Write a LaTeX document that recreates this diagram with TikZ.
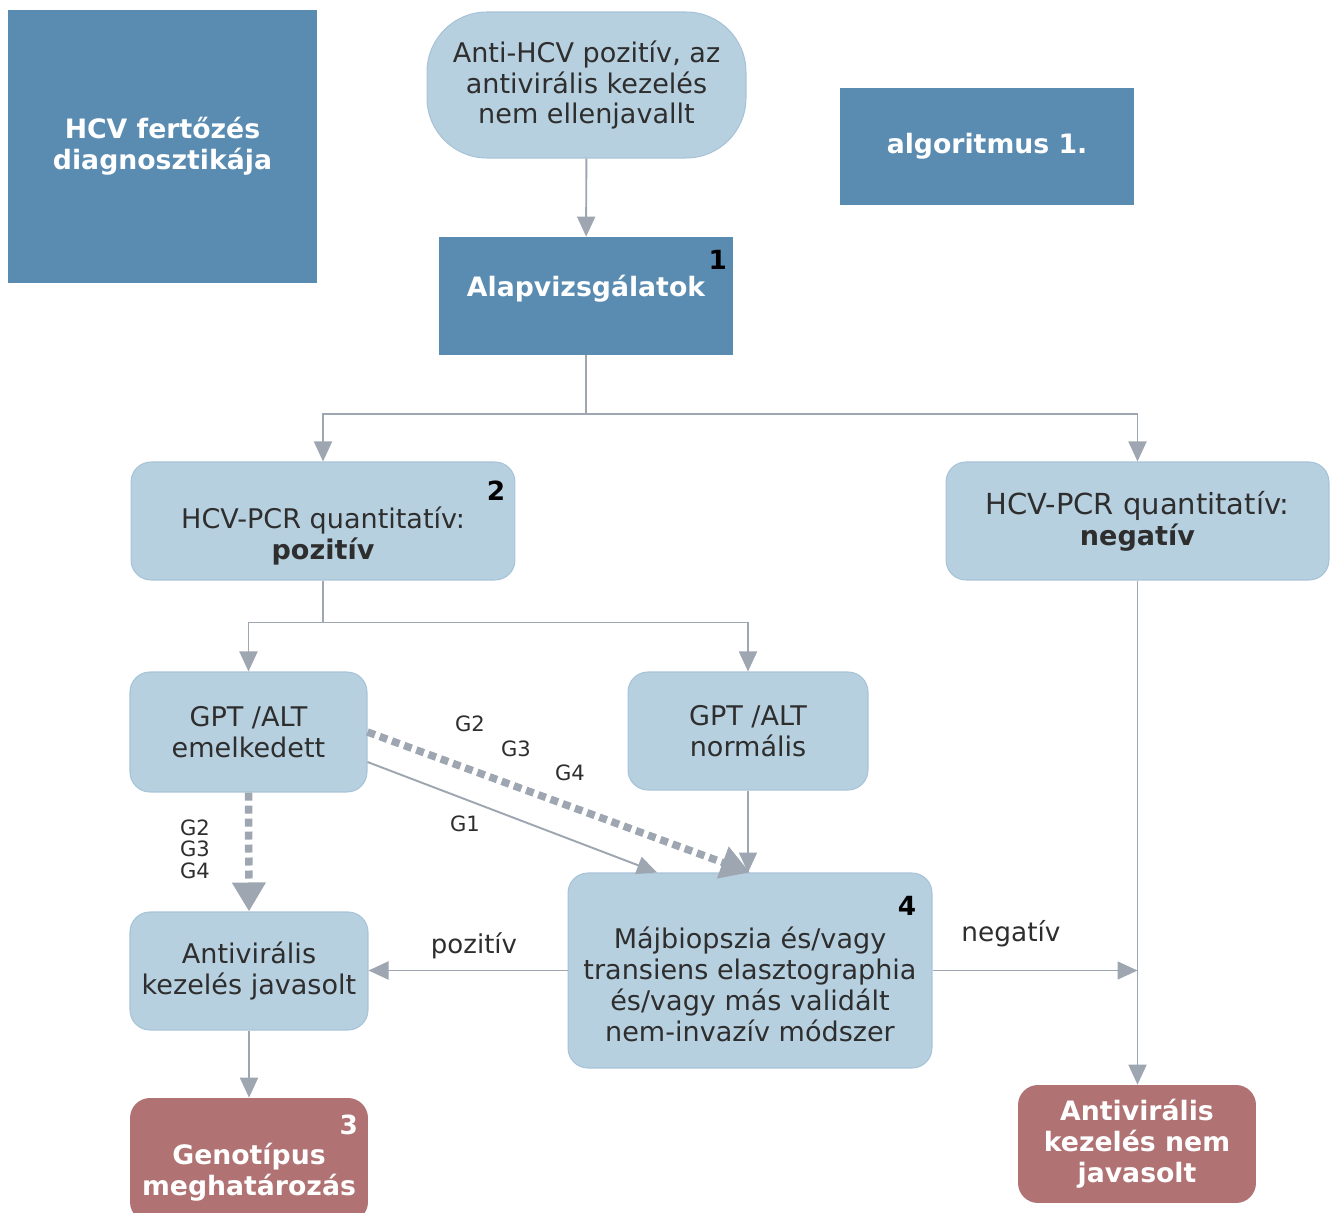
\documentclass[tikz,border=0pt]{standalone}
\usepackage{fontspec}
\setmainfont{DejaVu Sans}
\usetikzlibrary{arrows.meta}

\definecolor{hcvdark}{HTML}{5A8BB1}
\definecolor{hcvlight}{HTML}{B7D0E0}
\definecolor{hcvedge}{HTML}{A7C3D7}
\definecolor{hcvred}{HTML}{B07273}
\definecolor{hcvgray}{HTML}{9EA6B1}
\definecolor{hcvtext}{HTML}{2E2E2E}

\newcommand{\topgap}[1]{\rule{0pt}{#1}}

\tikzstyle{darkbox}=[rectangle, fill=hcvdark, text=white, align=center, inner sep=0, font=\fontsize{15.2}{17.6}\selectfont\bfseries]
\tikzstyle{lightbox}=[rectangle, rounded corners=0.4cm, fill=hcvlight, draw=hcvedge, line width=0.6pt, text=hcvtext, align=center, inner sep=0, font=\fontsize{15.4}{17.6}\selectfont]
\tikzstyle{redbox}=[rectangle, rounded corners=0.4cm, fill=hcvred, text=white, align=center, inner sep=0, font=\fontsize{15.2}{17.6}\selectfont\bfseries]
\tikzstyle{num}=[anchor=north east, inner sep=0, font=\fontsize{15}{16}\selectfont\bfseries]
\tikzstyle{flow}=[draw=hcvgray, line width=1.1pt, -{Triangle[width=0.36cm, length=0.4cm]}]
\tikzstyle{flowline}=[draw=hcvgray, line width=1.1pt]
\tikzstyle{gflow}=[draw=hcvgray, line width=0.15cm, dash pattern=on 0.16cm off 0.1cm, -{Triangle[width=0.64cm, length=0.58cm]}]
\tikzstyle{tag}=[inner sep=0, text=hcvtext, font=\fontsize{12}{13.6}\selectfont]

\begin{document}
\begin{tikzpicture}[x=0.02cm, y=-0.02cm]

\useasboundingbox (0, 0) rectangle (1336, 1213);

\node [darkbox, minimum width=6.18cm, minimum height=5.46cm] (title) at (162.5, 146.5) {HCV fertőzés\\diagnosztikája};
\node [darkbox, minimum width=5.88cm, minimum height=2.34cm] (algo) at (987, 146.5) {algoritmus 1.};

\node [lightbox, rounded corners=1.2cm, minimum width=6.38cm, minimum height=2.92cm] (start) at (586.5, 85) {Anti-HCV pozitív, az\\antivirális kezelés\\nem ellenjavallt};
\node [darkbox, minimum width=5.88cm, minimum height=2.36cm, label={[num, inner xsep=0.12cm, inner ysep=0.26cm]north east:1}] (alap) at (586, 296) {\rule[-0.41cm]{0pt}{0.41cm}Alapvizsgálatok};

\node [lightbox, minimum width=7.68cm, minimum height=2.36cm, label={[num, text=black, inner xsep=0.2cm, inner ysep=0.38cm]north east:2}] (pcrpos) at (323, 521) {\topgap{1.05cm}HCV-PCR quantitatív:\\\textbf{pozitív}};
\node [lightbox, minimum width=7.66cm, minimum height=2.36cm] (pcrneg) at (1137.5, 521) {{\fontsize{16.5}{17.6}\selectfont HCV-PCR quantitatív:}\\\textbf{negatív}};

\node [lightbox, minimum width=4.74cm, minimum height=2.4cm] (gptemel) at (248.5, 732) {GPT /ALT\\emelkedett};
\node [lightbox, minimum width=4.8cm, minimum height=2.36cm] (gptnorm) at (748, 731) {GPT /ALT\\normális};

\node [lightbox, minimum width=4.76cm, minimum height=2.36cm] (antijav) at (249, 971) {Antivirális\\kezelés javasolt};
\node [lightbox, minimum width=7.28cm, minimum height=3.9cm, label={[num, text=black, inner xsep=0.32cm, inner ysep=0.46cm]north east:4}] (maj) at (750, 970.5) {\topgap{0.99cm}Májbiopszia és/vagy\\transiens elasztographia\\és/vagy más validált\\nem-invazív módszer};

\node [redbox, minimum width=4.76cm, minimum height=2.48cm, label={[num, text=white, inner xsep=0.2cm, inner ysep=0.34cm]north east:3}] (geno) at (249, 1160) {\topgap{0.92cm}Genotípus\\meghatározás};
\node [redbox, minimum width=4.76cm, minimum height=2.36cm] (antinem) at (1137, 1144) {Antivirális\\kezelés nem\\javasolt};

\draw [flow] (start) -- (alap);
\draw [flowline] (alap.south) -- ++(0, 59) coordinate (split1);
\draw [flow] (split1) -| (pcrpos.north);
\draw [flow] (split1) -| (pcrneg.north);

\draw [flowline] (pcrpos.south) -- ++(0, 42) coordinate (split2);
\draw [flow] (split2) -| (gptemel.north);
\draw [flow] (split2) -| (gptnorm.north);

\draw [gflow] (gptemel.south) -- (antijav.north);
\draw [gflow] (gptemel.east) -- (maj.north);
\draw [flow] ([yshift=-0.6cm]gptemel.east) -- ([xshift=-1.86cm]maj.north);
\draw [flow] (gptnorm.south) -- (gptnorm.south |- maj.north);

\draw [flow] (maj.west) -- (maj.west -| antijav.east);
\draw [flow, line width=0.8pt] (maj.east) -- (maj.east -| pcrneg.south);
\draw [flow] (pcrneg.south) -- (pcrneg.south |- antinem.north);
\draw [flow] (antijav) -- (geno);

\node [tag, align=center] (tagvert) at (195, 849) {G2\\[-0.05cm]G3\\[-0.05cm]G4};
\node [tag] (tagdiag2) at (470, 724) {G2};
\node [tag] (tagdiag3) at (516, 749) {G3};
\node [tag] (tagdiag4) at (570, 773) {G4};
\node [tag] (tagone) at (465, 824) {G1};
\node [tag, font=\fontsize{14.8}{16}\selectfont] (tagpos) at (474, 946) {pozitív};
\node [tag, font=\fontsize{15}{16}\selectfont] (tagneg) at (1011, 934) {negatív};

\end{tikzpicture}
\end{document}
